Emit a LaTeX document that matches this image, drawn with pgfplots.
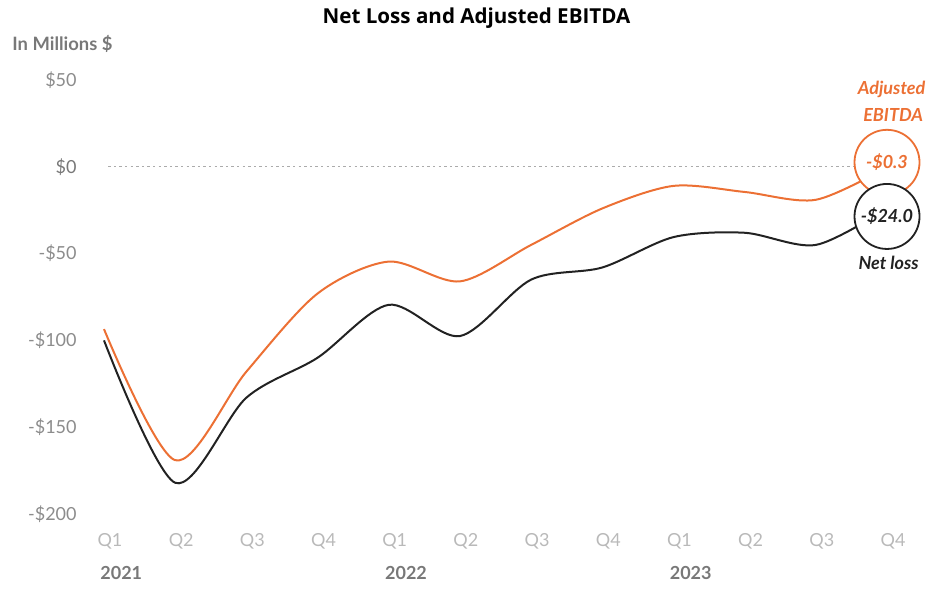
\documentclass[border=0pt]{standalone}
\usepackage{fontspec}
\setmainfont{Lato}
\newfontfamily\titlefont{Open Sans}
\usepackage{pgfplots}
\pgfplotsset{compat=1.18}
\definecolor{ebitda}{RGB}{236,112,52}
\definecolor{netloss}{RGB}{34,34,34}
\definecolor{ticky}{RGB}{140,140,140}
\definecolor{tickx}{RGB}{185,185,185}
\definecolor{yeargray}{RGB}{120,120,120}
\begin{document}
\begin{tikzpicture}
\useasboundingbox (0,0) rectangle (470pt,294pt);
\node[font=\titlefont\bfseries\fontsize{10.3}{12}\selectfont, text=black] at (238.25pt,285pt) {Net Loss and Adjusted EBITDA};
\node[font=\bfseries\fontsize{9.2}{11}\selectfont, text=yeargray, anchor=west, inner sep=0pt] at (6pt,272pt) {In Millions \$};
\begin{axis}[
  at={(52pt,37pt)}, anchor=south west,
  scale only axis, width=391.5pt, height=217pt,
  xmin=0, xmax=11, ymin=-200, ymax=50,
  clip=false,
  axis line style={draw=none},
  major tick length=0pt,
  xtick={0,...,11},
  xticklabels={Q1,Q2,Q3,Q4,Q1,Q2,Q3,Q4,Q1,Q2,Q3,Q4},
  xticklabel style={font=\fontsize{9}{10}\selectfont, text=tickx, anchor=center, inner sep=0pt, yshift=-13.5pt, xshift=3pt},
  ytick={-200,-150,-100,-50,0,50},
  yticklabels={-\$200,-\$150,-\$100,-\$50,{\textcolor{yeargray}{\$0}},\$50},
  yticklabel style={font=\fontsize{9}{10}\selectfont, text=ticky, anchor=east, inner sep=0pt, xshift=-13.5pt},
  every tick label/.append style={/pgf/number format/assume math mode=true},
]
\draw[color=black!33, line width=0.5pt, dash pattern=on 1.2pt off 1.6pt] (axis cs:0.06,0) -- (axis cs:10.55,0);
\addplot[color=ebitda, line width=1pt, smooth, no markers] coordinates {
  (0,-93.5) (1,-169) (2,-118) (3,-73) (4,-54.6) (5,-66) (6,-45) (7,-24) (8,-11) (9,-14.5) (10,-19) (11,-0.3)
} node[pos=1, circle, draw=ebitda, line width=0.9pt, fill=white, minimum size=32.5pt, inner sep=0pt, yshift=2.5pt,
  font=\bfseries\itshape\fontsize{9}{10}\selectfont, text=ebitda] {-\$0.3};
\addplot[color=netloss, line width=1pt, smooth, no markers] coordinates {
  (0,-100) (1,-182) (2,-133) (3,-110) (4,-79.5) (5,-97.5) (6,-65) (7,-58) (8,-40.5) (9,-38) (10,-45) (11,-24)
} node[pos=1, circle, draw=netloss, line width=0.9pt, fill=white, minimum size=32.5pt, inner sep=0pt, yshift=-4pt,
  font=\bfseries\itshape\fontsize{9}{10}\selectfont, text=netloss] {-\$24.0};
\node[anchor=west, inner sep=0pt, font=\bfseries\fontsize{9}{10}\selectfont, text=yeargray, xshift=-2pt, yshift=-29.5pt] at (axis cs:0,-200) {2021};
\node[anchor=west, inner sep=0pt, font=\bfseries\fontsize{9}{10}\selectfont, text=yeargray, xshift=-2pt, yshift=-29.5pt] at (axis cs:4,-200) {2022};
\node[anchor=west, inner sep=0pt, font=\bfseries\fontsize{9}{10}\selectfont, text=yeargray, xshift=-2pt, yshift=-29.5pt] at (axis cs:8,-200) {2023};
\end{axis}
\node[font=\bfseries\itshape\fontsize{9}{10}\selectfont, text=ebitda, inner sep=0pt] at (445.8pt,249.2pt) {Adjusted};
\node[font=\bfseries\itshape\fontsize{9}{10}\selectfont, text=ebitda, inner sep=0pt] at (446.6pt,236.3pt) {EBITDA};
\node[font=\bfseries\itshape\fontsize{9}{10}\selectfont, text=netloss, inner sep=0pt] at (444.3pt,162.5pt) {Net loss};
\end{tikzpicture}
\end{document}
